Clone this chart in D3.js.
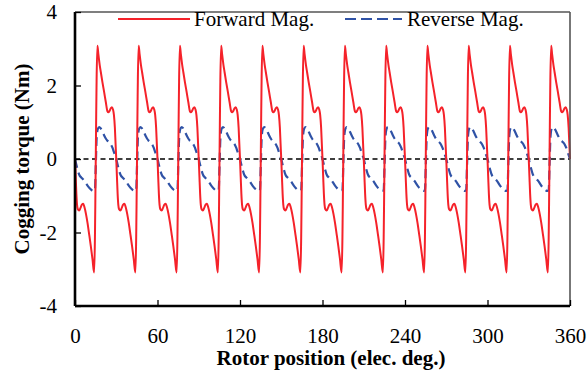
<!DOCTYPE html>
<html><head><meta charset="utf-8">
<script src="https://cdn.jsdelivr.net/npm/d3@7"></script>
<style>body{margin:0;background:#fff}svg{display:block}</style>
</head><body><svg id="c" width="587" height="374"></svg>
<script>
// ---- data ----
const xTicks = [0, 60, 120, 180, 240, 300, 360];
const yTicks = [-4, -2, 0, 2, 4];
const seriesNames = ["Forward Mag.", "Reverse Mag."];
const xTitle = "Rotor position (elec. deg.)";
const yTitle = "Cogging torque (Nm)";
// waveform repeats every 30 elec. deg (12 identical periods over 360 deg)
const periodDeg = 30;
const periodCount = 12;
const forwardAngles = [0, 0.5, 1, 1.5, 2, 3, 4, 5, 6, 6.8, 8, 9.1, 10.3, 11.5, 12.7, 13.9, 16.3, 17, 18, 18.8, 20, 21.2, 22.4, 23.6, 24.3, 25, 26, 26.8, 27.6, 28.3, 29, 29.5];
const forwardPeriod = [0, -0.48, -0.95, -1.25, -1.36, -1.4, -1.33, -1.24, -1.22, -1.3, -1.5, -1.74, -2.05, -2.37, -2.72, -3.09, 3.08, 2.85, 2.55, 2.36, 2.08, 1.82, 1.55, 1.3, 1.27, 1.3, 1.38, 1.41, 1.35, 1.2, 0.85, 0.42];
const reverseAngles = [0, 1, 2, 2.7, 3.5, 4.5, 5.5, 6.5, 7.5, 8.5, 9.8, 11, 12.2, 13.5, 14.5, 15.1, 15.8, 16.6, 17.6, 18.6, 19.5, 20.5, 21.5, 22.5, 23.5, 24.5, 25.5, 26.5, 27.3, 28.2, 29.1];
const reversePeriod = [0, -0.16, -0.3, -0.39, -0.46, -0.5, -0.54, -0.58, -0.63, -0.69, -0.76, -0.81, -0.85, -0.87, -0.85, -0.2, 0.6, 0.82, 0.87, 0.84, 0.78, 0.7, 0.62, 0.55, 0.5, 0.47, 0.43, 0.37, 0.3, 0.2, 0.1];
const endValue = 0;

function buildSeries(angles, vals) {
  const out = [];
  for (let k = 0; k < periodCount; k++)
    angles.forEach((a, i) => out.push({x: k * periodDeg + a, y: vals[i]}));
  out.push({x: periodDeg * periodCount, y: endValue});
  return out;
}
const forward = buildSeries(forwardAngles, forwardPeriod);
const reverse = buildSeries(reverseAngles, reversePeriod);

// ---- layout ----
const W = 587, H = 374;
const m = {left: 75, right: 17, top: 12, bottom: 68};
const iw = W - m.left - m.right, ih = H - m.top - m.bottom;
const svg = d3.select("#c");
const g = svg.append("g").attr("transform", `translate(${m.left},${m.top})`);
const x = d3.scaleLinear().domain([0, 360]).range([0, iw]);
const y = d3.scaleLinear().domain([-4, 4]).range([ih, 0]);
const FONT = "'Liberation Serif','Times New Roman',serif";
const RED = "#f5222a", BLUE = "#2f52a6";

// zero line
g.append("line").attr("x1", x(0)).attr("x2", x(360)).attr("y1", y(0)).attr("y2", y(0))
  .attr("stroke", "#000").attr("stroke-width", 1.4).attr("stroke-dasharray", "5,3.5");

// series
const line = d3.line().x(d => x(d.x)).y(d => y(d.y)).curve(d3.curveMonotoneX);
g.append("path").datum(reverse).attr("d", line).attr("fill", "none")
  .attr("stroke", BLUE).attr("stroke-width", 2.2).attr("stroke-dasharray", "9,5");
g.append("path").datum(forward).attr("d", line).attr("fill", "none")
  .attr("stroke", RED).attr("stroke-width", 2);

// frame
g.append("line").attr("x1", iw).attr("x2", iw).attr("y1", 0).attr("y2", ih).attr("stroke", "#555").attr("stroke-width", 1.6);
g.append("line").attr("x1", 0).attr("x2", iw).attr("y1", 0).attr("y2", 0).attr("stroke", "#555").attr("stroke-width", 1.6);

// axes
const fmt = d => String(d);
const xa = g.append("g").attr("transform", `translate(0,${ih})`)
  .call(d3.axisBottom(x).tickValues(xTicks).tickSize(-6).tickPadding(22).tickFormat(fmt));
const ya = g.append("g")
  .call(d3.axisLeft(y).tickValues(yTicks).tickSize(-6).tickPadding(18).tickFormat(fmt));
[xa, ya].forEach(a => {
  a.select(".domain").attr("stroke", "#000").attr("stroke-width", 2.6);
  a.selectAll(".tick line").attr("stroke", "#000").attr("stroke-width", 1.3);
  a.selectAll(".tick text").attr("font-family", FONT).attr("font-size", 21).attr("fill", "#000");
});
xa.select(".domain").attr("d", `M0,0H${iw}`);
ya.select(".domain").attr("d", `M0,${ih}V0`);

// axis titles
svg.append("text").attr("x", 331).attr("y", 365).attr("text-anchor", "middle")
  .attr("font-family", FONT).attr("font-weight", "bold").attr("font-size", 21).text(xTitle);
svg.append("text").attr("transform", `translate(29,${m.top + ih / 2}) rotate(-90)`).attr("text-anchor", "middle")
  .attr("font-family", FONT).attr("font-weight", "bold").attr("font-size", 21).text(yTitle);

// legend
const leg = svg.append("g");
leg.append("line").attr("x1", 118).attr("x2", 190).attr("y1", 19).attr("y2", 19).attr("stroke", RED).attr("stroke-width", 2);
leg.append("text").attr("x", 194).attr("y", 19).attr("dy", "0.35em").attr("font-family", FONT).attr("font-size", 21).text(seriesNames[0]);
leg.append("line").attr("x1", 345).attr("x2", 402).attr("y1", 19).attr("y2", 19).attr("stroke", BLUE).attr("stroke-width", 2.2).attr("stroke-dasharray", "11,5");
leg.append("text").attr("x", 407).attr("y", 19).attr("dy", "0.35em").attr("font-family", FONT).attr("font-size", 21).text(seriesNames[1]);
</script></body></html>
